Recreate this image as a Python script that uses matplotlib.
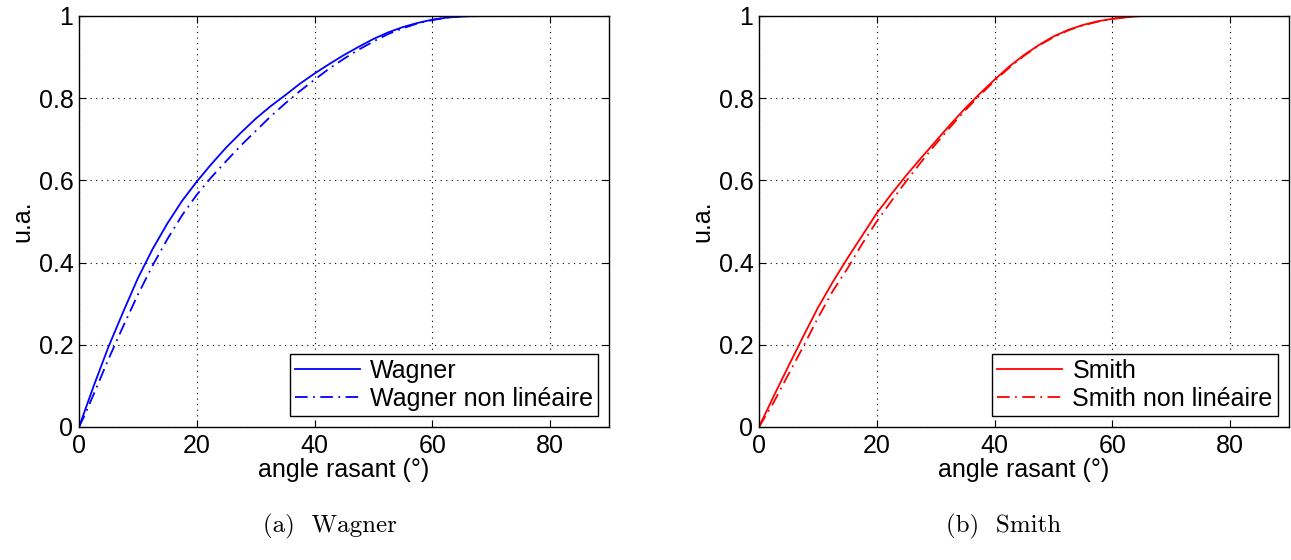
import matplotlib
matplotlib.use("Agg")
import matplotlib.pyplot as plt

plt.rcParams['font.family'] = ['Liberation Sans', 'DejaVu Sans']

# Wagner panel data
wag_x = [0, 1, 2.5, 5, 7.5, 10, 12.5, 15, 17.5, 20, 22.5, 25, 27.5, 30, 32.5, 35, 37.5, 40,
         42.5, 45, 47.5, 50, 52.5, 55, 57.5, 60, 62.5, 65, 70, 75, 80]
wag_lin = [0, 0.04, 0.10, 0.195, 0.28, 0.362, 0.433, 0.495, 0.55, 0.597, 0.64, 0.68, 0.716,
           0.75, 0.78, 0.807, 0.835, 0.86, 0.883, 0.905, 0.925, 0.944, 0.96, 0.973, 0.983,
           0.991, 0.996, 0.999, 1, 1, 1]
wag_nl = [0, 0.03, 0.08, 0.165, 0.245, 0.322, 0.393, 0.457, 0.515, 0.565, 0.608, 0.647,
          0.685, 0.72, 0.755, 0.787, 0.817, 0.845, 0.872, 0.896, 0.918, 0.938, 0.956, 0.97,
          0.982, 0.99, 0.996, 0.999, 1, 1, 1]

# Smith panel data
smi_x = [0, 1, 2.5, 5, 7.5, 10, 12.5, 15, 17.5, 20, 22.5, 25, 27.5, 30, 32.5, 35, 37.5, 40,
         42.5, 45, 47.5, 50, 52.5, 55, 57.5, 60, 62.5, 65, 70, 75, 80, 85, 90]
smi_lin = [0, 0.03, 0.075, 0.148, 0.22, 0.29, 0.352, 0.41, 0.465, 0.52, 0.567, 0.612, 0.654,
           0.695, 0.736, 0.775, 0.811, 0.845, 0.877, 0.905, 0.929, 0.95, 0.966, 0.978, 0.987,
           0.993, 0.997, 1, 1, 1, 1, 1, 1]
smi_nl = [0, 0.024, 0.06, 0.128, 0.195, 0.265, 0.33, 0.385, 0.445, 0.5, 0.55, 0.598, 0.644,
          0.688, 0.73, 0.77, 0.807, 0.842, 0.874, 0.903, 0.928, 0.948, 0.965, 0.977, 0.986,
          0.993, 0.997, 1, 1, 1, 1, 1, 1]

xticks = [0, 20, 40, 60, 80]
yticks = [0, 0.2, 0.4, 0.6, 0.8, 1]
ytick_labels = ['0', '0.2', '0.4', '0.6', '0.8', '1']

fig = plt.figure(figsize=(12.91, 5.6), dpi=100)
ax1 = fig.add_axes([0.0612, 0.2375, 0.4105, 0.734])
ax2 = fig.add_axes([0.5879, 0.2375, 0.4105, 0.734])

dashdot = (0, (7, 3, 1, 3))
FS = 18

panels = [
    (ax1, wag_x, wag_lin, wag_nl, 'blue', 'Wagner', 'Wagner non linéaire', '(a)  Wagner', 0.2556),
    (ax2, smi_x, smi_lin, smi_nl, 'red', 'Smith', 'Smith non linéaire', '(b)  Smith', 0.7777),
]

for ax, x, ylin, ynl, col, l1, l2, cap, capx in panels:
    ax.plot(x, ylin, color=col, lw=1.3, label=l1)
    ax.plot(x, ynl, color=col, lw=1.3, linestyle=dashdot, label=l2)
    ax.set_xlim(0, 90)
    ax.set_ylim(0, 1)
    ax.set_xticks(xticks)
    ax.set_yticks(yticks)
    ax.set_yticklabels(ytick_labels)
    ax.tick_params(direction='in', top=True, right=True, labelsize=FS, length=5)
    ax.tick_params(axis='x', pad=5)
    ax.tick_params(axis='y', pad=4)
    ax.grid(True, color='black', linestyle=(0, (1, 4)), linewidth=0.8)
    for s in ax.spines.values():
        s.set_linewidth(1.0)
    ax.set_xlabel('angle rasant (°)', fontsize=FS, labelpad=0)
    ax.set_ylabel('u.a.', fontsize=FS, labelpad=3)
    leg = ax.legend(loc='lower right', fontsize=FS, frameon=True, fancybox=False,
                    edgecolor='black', framealpha=1, handlelength=2.6, handletextpad=0.4,
                    borderpad=0.2, labelspacing=0.15, borderaxespad=0.45)
    leg.get_frame().set_linewidth(1.0)
    fig.text(capx, 0.06, cap, ha='center', va='center', fontsize=18, family='cmr10')

fig.savefig('out.png', dpi=100)
